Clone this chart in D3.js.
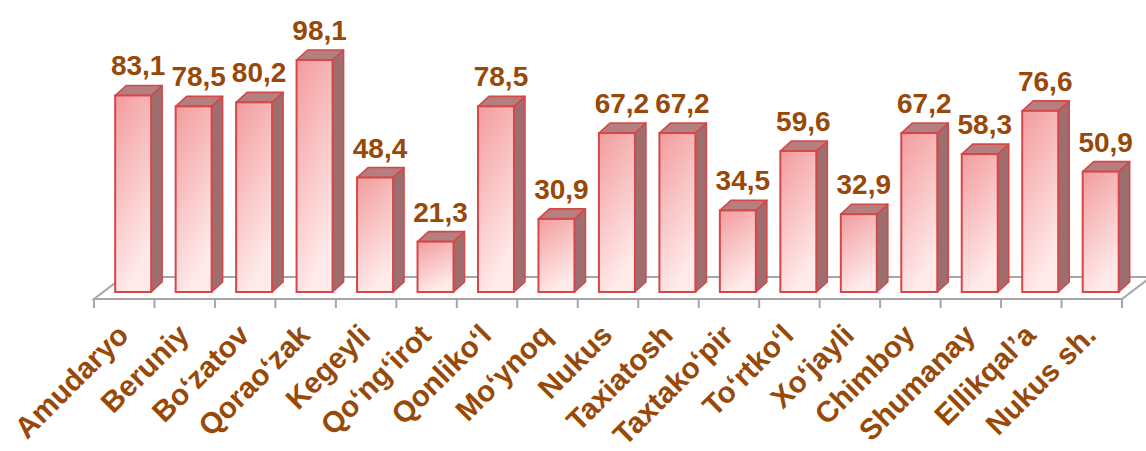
<!DOCTYPE html>
<html><head><meta charset="utf-8">
<script src="https://cdn.jsdelivr.net/npm/d3@7"></script>
<style>html,body{margin:0;padding:0;background:#fff;}svg{display:block;}</style>
</head><body>
<svg id="c" width="1146" height="451"></svg>
<script>
const categories = ["Amudaryo","Beruniy","Bo‘zatov","Qorao‘zak","Kegeyli","Qo‘ng‘irot","Qonliko‘l","Mo‘ynoq","Nukus","Taxiatosh","Taxtako‘pir","To‘rtko‘l","Xo‘jayli","Chimboy","Shumanay","Ellikqal’a","Nukus sh."];
const values = [83.1,78.5,80.2,98.1,48.4,21.3,78.5,30.9,67.2,67.2,34.5,59.6,32.9,67.2,58.3,76.6,50.9];
const valueLabels = ["83,1","78,5","80,2","98,1","48,4","21,3","78,5","30,9","67,2","67,2","34,5","59,6","32,9","67,2","58,3","76,6","50,9"];

const svg = d3.select("#c");
const brown = "#984807";
const x = d3.scaleBand().domain(categories).range([94,1122]).paddingInner(0).paddingOuter(0);
const y = d3.scaleLinear().domain([0,100]).range([292,55.5]);
const bw = x.bandwidth();
const barOff = bw*0.35, barW = bw*0.595;
const dx = 11, dy = 10;      // bar depth
const fdx = 29, fdy = 22;    // floor depth
const floorY = 299;

const defs = svg.append("defs");
const g = defs.append("linearGradient").attr("id","front").attr("x1",0).attr("y1",0).attr("x2",0.35).attr("y2",1);
g.append("stop").attr("offset","0%").attr("stop-color","#F29C9D");
g.append("stop").attr("offset","100%").attr("stop-color","#FFEAEA");

// floor
const floor = svg.append("g").attr("stroke","#A6A6A6").attr("stroke-width",2).attr("fill","none");
const x0 = x.range()[0], x1 = x.range()[1];
floor.append("path").attr("d",`M${x0},${floorY}L${x0+fdx},${floorY-fdy}L${x1+fdx},${floorY-fdy}L${x1},${floorY}Z`);
// ticks
const tickPos = categories.map(c=>x(c)).concat([x1]);
floor.selectAll("line.t").data(tickPos).join("line").attr("class","t")
  .attr("x1",d=>d).attr("x2",d=>d).attr("y1",floorY).attr("y2",floorY+9);

// bars
const bars = svg.append("g").selectAll("g").data(categories).join("g");
bars.each(function(c,i){
  const gg = d3.select(this);
  const bx = x(c)+barOff, top = y(values[i]), bot = y(0);
  gg.append("path").attr("d",`M${bx+barW},${top}L${bx+barW+dx},${top-dy}L${bx+barW+dx},${bot-dy}L${bx+barW},${bot}Z`)
    .attr("fill","#9E6E6E").attr("stroke","#D5484A").attr("stroke-width",1.6).attr("stroke-linejoin","round");
  gg.append("path").attr("d",`M${bx},${top}L${bx+dx},${top-dy}L${bx+barW+dx},${top-dy}L${bx+barW},${top}Z`)
    .attr("fill","#B57F7F").attr("stroke","#D5484A").attr("stroke-width",1.6).attr("stroke-linejoin","round");
  gg.append("rect").attr("x",bx).attr("y",top).attr("width",barW).attr("height",bot-top)
    .attr("fill","url(#front)").attr("stroke","#D5484A").attr("stroke-width",2);
});

// value labels
svg.append("g").selectAll("text").data(categories).join("text")
  .attr("x",(c)=>x(c)+barOff+barW/2+5)
  .attr("y",(c,i)=>y(values[i])-20)
  .attr("text-anchor","middle")
  .attr("font-family","Liberation Sans, Arial, sans-serif").attr("font-weight","bold").attr("font-size",28)
  .attr("fill",brown)
  .text((c,i)=>valueLabels[i]);

// category labels
svg.append("g").selectAll("text").data(categories).join("text")
  .attr("transform",c=>`translate(${x(c)+bw/2+6},337) rotate(-45)`)
  .attr("text-anchor","end")
  .attr("font-family","Liberation Sans, Arial, sans-serif").attr("font-weight","bold").attr("font-size",29.5)
  .attr("fill",brown)
  .text(c=>c);
</script>
</body></html>
